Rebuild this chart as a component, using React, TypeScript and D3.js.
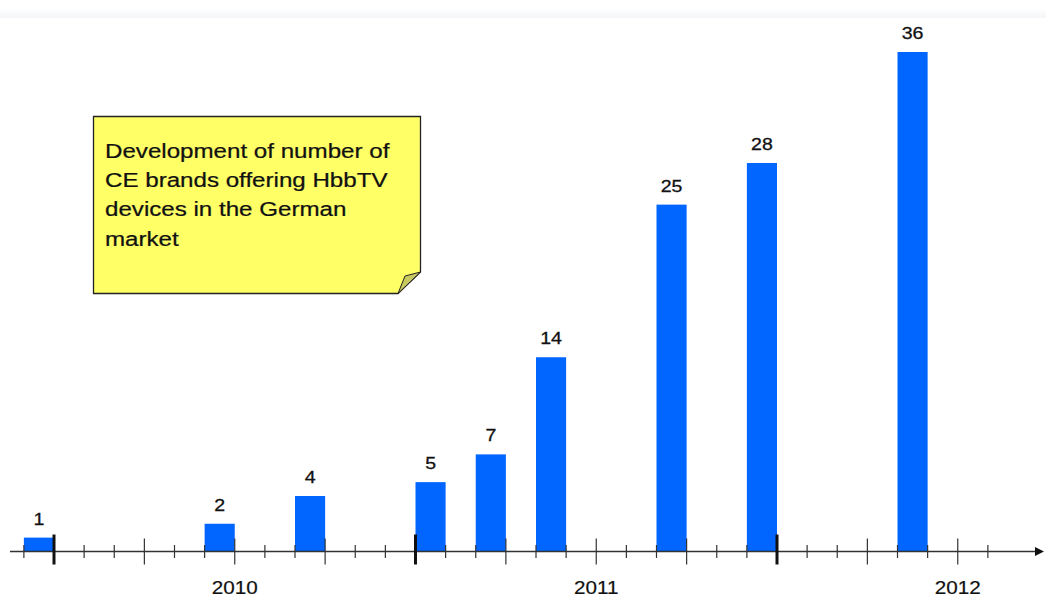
import React from 'react'
import * as d3 from 'd3';

// months with a new brand count (year-month), and the count of CE brands
const months = ['2009-12', '2010-06', '2010-09', '2011-01', '2011-03', '2011-05', '2011-09', '2011-12', '2012-05'];
const brands = [1, 2, 4, 5, 7, 14, 25, 28, 36];
const years = ['2010', '2011', '2012'];
const noteLines = ['Development of number of', 'CE brands offering HbbTV', 'devices in the German', 'market'];

const W = 1046;
const H = 599;
const AXIS_Y = 551.5;
const FONT = '"Liberation Sans", Arial, sans-serif';
const SX = 1.15; // the source text looks horizontally stretched

// month index counted from Jan 2010
const monthIndex = (s: string) => {
  const [y, m] = s.split('-').map(Number);
  return (y - 2010) * 12 + (m - 1);
};

const Txt = ({ x, y, children, anchor = 'start' }: { x: number, y: number, children: any, anchor?: string }) => (
  <text transform={`translate(${x},${y}) scale(${SX},1)`} textAnchor={anchor}>{children}</text>
);

const App = () => {
  const x = d3.scaleLinear().domain([0, 24]).range([54, 777]);
  const y = d3.scaleLinear().domain([0, 36]).range([AXIS_Y, 52]);

  const ticks = d3.range(-1, 32);

  return (
    <svg width={W} height={H} style={{ position: 'absolute', left: 0, top: 0, background: '#fff' }}>
      <defs>
        <linearGradient id='band' x1='0' y1='0' x2='0' y2='1'>
          <stop offset='0' stopColor='#ffffff' />
          <stop offset='1' stopColor='#f3f5f8' />
        </linearGradient>
      </defs>
      <rect x={0} y={9} width={W} height={9} fill='url(#band)' />

      {/* bars */}
      <g>
        {months.map((m, i) => {
          const mi = monthIndex(m);
          return (
            <rect key={m} x={x(mi)} y={y(brands[i])} width={x(mi + 1) - x(mi)} height={AXIS_Y - y(brands[i])} fill='#0066ff' />
          );
        })}
      </g>
      <g fontFamily={FONT} fontSize={17} fill='#111' stroke='#111' strokeWidth={0.3}>
        {months.map((m, i) => {
          const mi = monthIndex(m);
          return (
            <Txt key={m} x={(x(mi) + x(mi + 1)) / 2} y={y(brands[i]) - 13} anchor='middle'>{brands[i]}</Txt>
          );
        })}
      </g>

      {/* time axis */}
      <g stroke='#333'>
        <line x1={10} x2={1036} y1={AXIS_Y} y2={AXIS_Y} strokeWidth={1.3} />
        {ticks.map(t => {
          if (t % 12 === 0) {
            return <line key={t} x1={x(t)} x2={x(t)} y1={AXIS_Y - 17} y2={AXIS_Y + 13} strokeWidth={3} stroke='#111' />;
          }
          const len = t % 3 === 0 ? 13 : 6.5;
          return <line key={t} x1={x(t)} x2={x(t)} y1={AXIS_Y - len} y2={AXIS_Y + len} strokeWidth={1.2} />;
        })}
      </g>
      <path d={`M1035,${AXIS_Y - 4.5} L1044,${AXIS_Y} L1035,${AXIS_Y + 4.5} Z`} fill='#111' />
      <g fontFamily={FONT} fontSize={18} fill='#111' stroke='#111' strokeWidth={0.2}>
        {years.map((yr, i) => (
          <Txt key={yr} x={x(i * 12 + 6)} y={594} anchor='middle'>{yr}</Txt>
        ))}
      </g>

      {/* sticky note */}
      <path d='M93.5,116.5 L420.5,116.5 L420.5,272 L398,293.5 L93.5,293.5 Z' fill='#ffff66' stroke='#222' strokeWidth={1.3} />
      <path d='M420.5,272 L405,276 L398,293.5 Z' fill='#c8c860' stroke='#222' strokeWidth={1} />
      <g fontFamily={FONT} fontSize={21} fill='#111' stroke='#111' strokeWidth={0.25}>
        {noteLines.map((l, i) => (
          <Txt key={l} x={105} y={158 + i * 29.2}>{l}</Txt>
        ))}
      </g>
    </svg>
  )
}

export default App
